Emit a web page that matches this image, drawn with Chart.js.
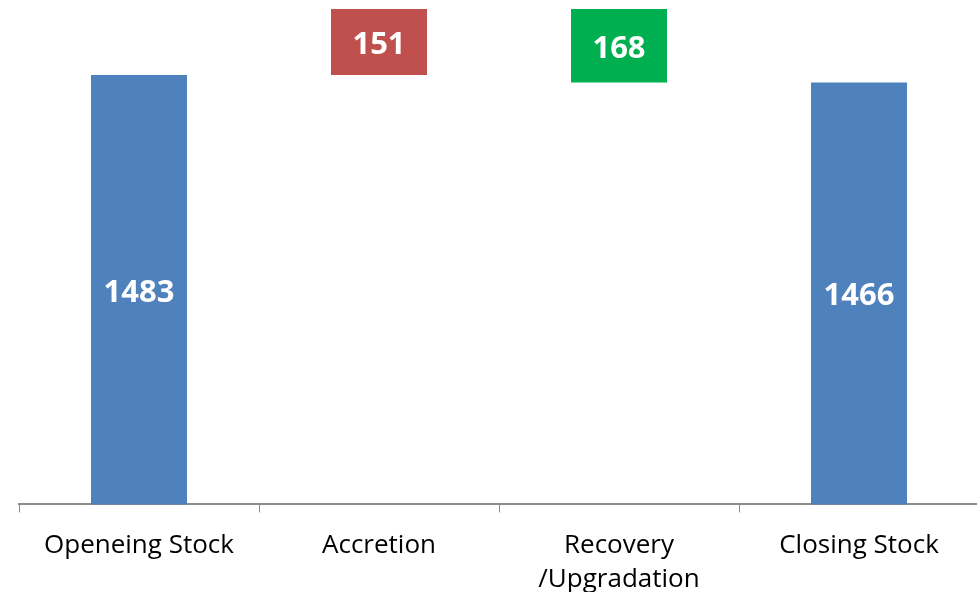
<!DOCTYPE html>
<html><head><meta charset="utf-8">
<script src="https://cdn.jsdelivr.net/npm/chart.js@4"></script>
<style>
html,body{margin:0;padding:0;background:#fff;overflow:hidden;}
#wrap{width:1000px;height:612px;position:relative;}
</style></head>
<body><div id="wrap"><canvas id="c"></canvas></div>
<script>
const categories = ["Openeing Stock", "Accretion", ["Recovery", "/Upgradation"], "Closing Stock"];
const openingStock = 1483;
const accretion = 151;
const recovery = 168;
const closingStock = 1466;
const axisMin = 500;
const colors = ["#4F81BD", "#C0504D", "#00B050", "#4F81BD"];

const peak = openingStock + accretion;
const ranges = [
  [0, openingStock],
  [openingStock, peak],
  [peak - recovery, peak],
  [0, closingStock]
];
const labels = [openingStock, accretion, recovery, closingStock];

const valueLabels = {
  id: 'valueLabels',
  afterDatasetsDraw(chart) {
    const ctx = chart.ctx;
    const meta = chart.getDatasetMeta(0);
    const area = chart.chartArea;
    ctx.save();
    ctx.font = "bold 31px 'Open Sans'";
    ctx.fillStyle = "#fff";
    ctx.textAlign = "center";
    ctx.textBaseline = "middle";
    meta.data.forEach((bar, i) => {
      const top = Math.max(bar.y, area.top);
      const bottom = Math.min(bar.base, area.bottom);
      ctx.fillText(String(labels[i]), bar.x, (top + bottom) / 2 + 3);
    });
    ctx.restore();
  }
};

new Chart(document.getElementById('c'), {
  type: 'bar',
  data: {
    labels: categories,
    datasets: [{
      data: ranges,
      backgroundColor: colors,
      borderWidth: 0,
      categoryPercentage: 1,
      barPercentage: 0.4
    }]
  },
  options: {
    responsive: true,
    maintainAspectRatio: false,
    animation: false,
    layout: { padding: { top: 9, left: 19, right: 21, bottom: 0 } },
    plugins: { legend: { display: false }, tooltip: { enabled: false } },
    scales: {
      x: {
        offset: true,
        grid: { display: true, drawOnChartArea: false, drawTicks: true, tickLength: 8, color: '#8c8c8c', offset: true },
        border: { display: true, color: '#8c8c8c', width: 2 },
        ticks: { color: '#000', font: { family: "'Open Sans'", size: 26, lineHeight: 1.3 }, padding: 16, maxRotation: 0, autoSkip: false }
      },
      y: {
        display: false,
        min: axisMin,
        max: peak
      }
    }
  },
  plugins: [valueLabels]
});
</script></body></html>
